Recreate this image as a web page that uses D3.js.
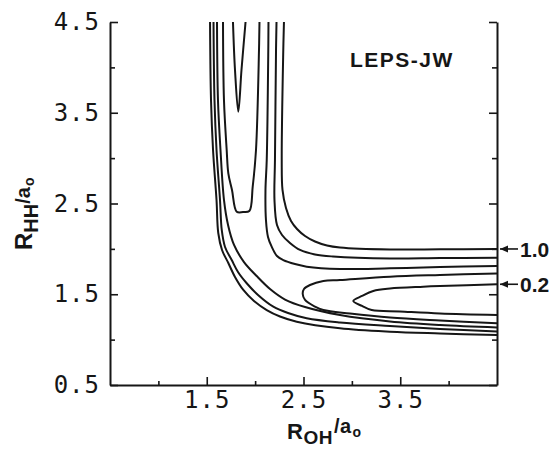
<!DOCTYPE html>
<html>
<head>
<meta charset="utf-8">
<script src="https://cdn.jsdelivr.net/npm/d3@7"></script>
<style>
  body { margin: 0; background: #fff; }
  svg { display: block; }
</style>
</head>
<body>
<svg id="chart" width="560" height="450"></svg>
<script>
// ----- 坐标轴刻度 -----
const yMajor = [0.5, 1.5, 2.5, 3.5, 4.5];
const yMinor = [1.0, 2.0, 3.0, 4.0];
const xMajor = [1.5, 2.5, 3.5];
const xMinor = [1.0, 2.0, 3.0, 4.0];

// ----- 等值线 (R_OH, R_HH)，单位 a0 -----
// 外侧分支：左边竖直，绕过拐角，到右下
const c10Outer = [[1.534, 4.50], [1.544, 3.640], [1.565, 3.090], [1.601, 2.539], [1.619, 2.175], [1.658, 1.988],
  [1.723, 1.844], [1.792, 1.690], [1.878, 1.547], [1.988, 1.426], [2.120, 1.326], [2.257, 1.255],
  [2.430, 1.198], [2.877, 1.125], [3.394, 1.087], [3.911, 1.068], [4.50, 1.051]];
const c08Outer = [[1.570, 4.50], [1.580, 3.640], [1.601, 3.090], [1.637, 2.539], [1.655, 2.208], [1.689, 2.021],
  [1.758, 1.877], [1.823, 1.745], [1.913, 1.621], [2.030, 1.492], [2.188, 1.363], [2.340, 1.293],
  [2.533, 1.235], [2.877, 1.189], [3.394, 1.150], [3.911, 1.117], [4.50, 1.090]];
const c06Outer = [[1.606, 4.50], [1.616, 3.640], [1.642, 3.090], [1.678, 2.539], [1.720, 2.263], [1.782, 2.043],
  [1.885, 1.855], [2.016, 1.701], [2.154, 1.558], [2.309, 1.442], [2.516, 1.359], [2.877, 1.271],
  [3.394, 1.200], [3.911, 1.161], [4.50, 1.134]];
// 内侧分支：右边竖直，转向右上
const c06Inner = [[2.138, 4.50], [2.136, 4.191], [2.120, 2.979], [2.107, 2.649], [2.112, 2.318], [2.133, 2.131],
  [2.171, 2.024], [2.226, 1.921], [2.291, 1.877], [2.412, 1.833], [2.533, 1.804], [2.877, 1.778],
  [3.394, 1.786], [3.911, 1.800], [4.50, 1.811]];
const c08Inner = [[2.221, 4.50], [2.216, 4.191], [2.205, 2.979], [2.200, 2.539], [2.226, 2.263], [2.278, 2.153],
  [2.360, 2.065], [2.464, 1.988], [2.619, 1.938], [2.805, 1.916], [3.394, 1.894], [3.911, 1.899], [4.50, 1.903]];
const c10Inner = [[2.298, 4.50], [2.291, 4.191], [2.275, 2.979], [2.283, 2.649], [2.319, 2.450], [2.371, 2.307],
  [2.433, 2.219], [2.516, 2.142], [2.619, 2.081], [2.743, 2.037], [2.877, 2.015], [3.394, 1.993],
  [3.911, 1.995], [4.50, 1.999]];
// OH 谷里的 U 形与 V 形
const c04Top = [[1.668, 4.50], [1.678, 3.640], [1.706, 3.090], [1.723, 2.833], [1.761, 2.649], [1.810, 2.410],
  [1.875, 2.406], [1.940, 2.417], [1.975, 2.685], [2.009, 3.090], [2.040, 4.191], [2.045, 4.50]];
const c02Top = [[1.771, 4.50], [1.792, 3.971], [1.826, 3.512], [1.859, 3.971], [1.901, 4.50]];
// HH 谷里的两个闭口
const c04Right = [[4.50, 1.729], [3.911, 1.712], [3.394, 1.693], [2.877, 1.657], [2.705, 1.646], [2.567, 1.602],
  [2.505, 1.558], [2.492, 1.503], [2.516, 1.437], [2.619, 1.363], [2.705, 1.326], [2.981, 1.288],
  [3.394, 1.244], [3.911, 1.211], [4.50, 1.180]];
const c02Right = [[4.50, 1.610], [3.911, 1.591], [3.738, 1.583], [3.394, 1.563], [3.221, 1.536], [3.105, 1.481],
  [3.015, 1.426], [3.105, 1.371], [3.205, 1.326], [3.497, 1.310], [3.911, 1.288], [4.50, 1.271]];

const contours = [c10Outer, c08Outer, c06Outer, c06Inner, c08Inner, c10Inner, c04Top, c02Top, c04Right, c02Right];

// 右侧标注的等值线
const markLevels = ["1.0", "0.2"];
const markRHH = [1.999, 1.610];

// ----- 画布 -----
const svg = d3.select("#chart");
const mLeft = 110, mRight = 497, mTop = 22, mBottom = 385;
const ink = "#161616";
const tickFont = "'DejaVu Sans Mono', monospace";
const titleFont = "'Liberation Sans', Arial, Helvetica, sans-serif";

const x = d3.scaleLinear().domain([0.5, 4.5]).range([mLeft, mRight]);
const y = d3.scaleLinear().domain([0.5, 4.5]).range([mBottom, mTop]);

svg.append("defs").append("clipPath").attr("id", "plot")
  .append("rect").attr("x", mLeft).attr("y", mTop).attr("width", mRight - mLeft).attr("height", mBottom - mTop);

// 等值线
const line = d3.line()
  .x(d => x(d[0]))
  .y(d => y(d[1]))
  .curve(d3.curveCatmullRom.alpha(0.5));

svg.append("g")
  .attr("clip-path", "url(#plot)")
  .selectAll("path")
  .data(contours)
  .join("path")
  .attr("d", line)
  .attr("fill", "none")
  .attr("stroke", ink)
  .attr("stroke-width", 2)
  .attr("stroke-linejoin", "round");

// ----- 坐标轴 -----
function styleAxis(g) {
  g.select(".domain").attr("stroke", ink).attr("stroke-width", 2);
  g.selectAll(".tick line").attr("stroke", ink).attr("stroke-width", 1.6);
  g.selectAll(".tick text")
    .attr("fill", ink)
    .style("font-family", tickFont)
    .style("font-size", "24px")
    .style("letter-spacing", "1px");
}

// 左轴
svg.append("g")
  .attr("transform", `translate(${mLeft},0)`)
  .call(d3.axisLeft(y).tickValues(yMajor).tickSize(-8).tickSizeOuter(0).tickPadding(10).tickFormat(d3.format(".1f")))
  .call(styleAxis);
svg.append("g")
  .attr("transform", `translate(${mLeft},0)`)
  .call(d3.axisLeft(y).tickValues(yMinor).tickSize(-5).tickFormat(""))
  .call(g => g.select(".domain").remove())
  .call(styleAxis);

// 右轴
svg.append("g")
  .attr("transform", `translate(${mRight},0)`)
  .call(d3.axisRight(y).tickValues(yMajor).tickSize(-8).tickSizeOuter(0).tickFormat(""))
  .call(styleAxis);
svg.append("g")
  .attr("transform", `translate(${mRight},0)`)
  .call(d3.axisRight(y).tickValues(yMinor).tickSize(-5).tickFormat(""))
  .call(g => g.select(".domain").remove())
  .call(styleAxis);

// 下轴
svg.append("g")
  .attr("transform", `translate(0,${mBottom})`)
  .call(d3.axisBottom(x).tickValues(xMajor).tickSize(-8).tickSizeOuter(0).tickPadding(6).tickFormat(d3.format(".1f")))
  .call(styleAxis);
svg.append("g")
  .attr("transform", `translate(0,${mBottom})`)
  .call(d3.axisBottom(x).tickValues(xMinor).tickSize(-4).tickFormat(""))
  .call(g => g.select(".domain").remove())
  .call(styleAxis);

// ----- 轴标题 -----
const xt = svg.append("text")
  .attr("x", 287).attr("y", 439)
  .attr("fill", ink)
  .style("font-family", titleFont)
  .style("font-weight", "bold")
  .style("letter-spacing", "0.5px");
xt.append("tspan").style("font-size", "22px").text("R");
xt.append("tspan").style("font-size", "19px").attr("dy", 5).text("OH");
xt.append("tspan").style("font-size", "20px").attr("dy", -11).attr("dx", 1).text("/a");
xt.append("tspan").style("font-size", "14px").attr("dy", 4).attr("dx", 1).text("o");

const yt = svg.append("text")
  .attr("transform", "translate(32,250) rotate(-90)")
  .attr("fill", ink)
  .style("font-family", titleFont)
  .style("font-weight", "bold");
yt.append("tspan").style("font-size", "24px").text("R");
yt.append("tspan").style("font-size", "20px").attr("dy", 6).text("HH");
yt.append("tspan").style("font-size", "20px").attr("dy", -8).text("/a");
yt.append("tspan").style("font-size", "14px").attr("dy", 4).attr("dx", 1).text("o");

// 图内标签
svg.append("text")
  .attr("x", 350).attr("y", 67)
  .attr("fill", ink)
  .style("font-family", titleFont)
  .style("font-weight", "bold")
  .style("font-size", "21px")
  .style("letter-spacing", "1.5px")
  .text("LEPS-JW");

// ----- 右侧等值线标注 -----
const marks = svg.append("g").selectAll("g")
  .data(markLevels)
  .join("g")
  .attr("transform", (d, i) => `translate(${mRight + 3},${y(markRHH[i])})`);

marks.append("path")
  .attr("d", "M0,0 L18,0")
  .attr("stroke", ink)
  .attr("stroke-width", 1.6);
marks.append("path")
  .attr("d", "M0,0 L8,-3.5 L8,3.5 Z")
  .attr("fill", ink);
marks.append("text")
  .attr("x", 20)
  .attr("dy", "0.36em")
  .attr("fill", ink)
  .style("font-family", titleFont)
  .style("font-weight", "bold")
  .style("font-size", "21px")
  .text(d => d);
</script>
</body>
</html>
